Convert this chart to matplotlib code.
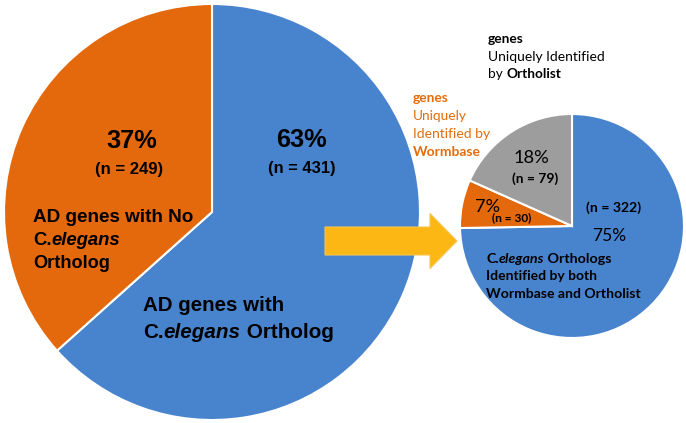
import matplotlib
matplotlib.use("Agg")
import matplotlib.pyplot as plt
from matplotlib.patches import FancyArrow

W, H = 686, 423

# left pie: AD genes with / without a C. elegans ortholog
ad_labels = ["with ortholog", "no ortholog"]
ad_counts = [431, 249]

# right pie: orthologs by source
src_labels = ["both", "wormbase only", "ortholist only"]
src_counts = [322, 30, 79]

BLUE = "#4884CE"
ORANGE = "#E4680C"
GRAY = "#9D9D9D"
YELLOW = "#FDB714"
TXT_OR = "#E46C0A"

fig = plt.figure(figsize=(W / 100, H / 100), dpi=100)
ax = fig.add_axes([0, 0, 1, 1])

wp = dict(edgecolor="white", linewidth=1.5)
ax.pie(ad_counts, colors=[BLUE, ORANGE], startangle=90, counterclock=False,
       center=(212, H - 212), radius=208, wedgeprops=wp, frame=False)
ax.pie(src_counts, colors=[BLUE, ORANGE, GRAY], startangle=90, counterclock=False,
       center=(572, H - 226), radius=112, wedgeprops=wp, frame=False)
ax.set_xlim(0, W)
ax.set_ylim(0, H)
ax.set_aspect("auto")
ax.axis("off")

ax.add_patch(FancyArrow(325, H - 241, 132, 0, width=28, head_width=55, head_length=27,
                        length_includes_head=True, fc=YELLOW, ec="#F7C64E", lw=0.8))

ad_pct = [round(100 * c / sum(ad_counts)) for c in ad_counts]
src_pct = [round(100 * c / sum(src_counts)) for c in src_counts]

ARIAL = "Liberation Sans"
CAL = "Lato"
rend = fig.canvas.get_renderer()
B, I, N = "bold", "italic", "normal"


def rich(x, y, parts, width, family, color="black", ha="left"):
    # parts: (text, weight, style); font size is fitted so the line is `width` px wide
    probe = []
    for s, w, st in parts:
        t = ax.text(0, 0, s, fontsize=10, family=family, fontweight=w, fontstyle=st)
        probe.append(t.get_window_extent(rend).width)
        t.remove()
    size = 10 * width / sum(probe)
    if ha == "center":
        x -= width / 2
    for (s, w, st), pw in zip(parts, probe):
        ax.text(x, H - y, s, fontsize=size, family=family, fontweight=w, fontstyle=st,
                color=color, ha="left", va="baseline")
        x += pw * size / 10


def txt(x, y, s, width, family, weight=N, color="black", ha="left"):
    rich(x, y, [(s, weight, N)], width, family, color, ha)


# left pie texts
txt(131.5, 148, f"{ad_pct[1]}%", 51, ARIAL, B, ha="center")
txt(129, 174, f"(n = {ad_counts[1]})", 68, ARIAL, B, ha="center")
txt(302, 147, f"{ad_pct[0]}%", 51, ARIAL, B, ha="center")
txt(302.5, 173, f"(n = {ad_counts[0]})", 68, ARIAL, B, ha="center")

txt(33, 221.5, "AD genes with No", 160, ARIAL, B)
rich(33, 245, [("C.", B, N), ("elegans", B, I)], 88, ARIAL)
txt(33, 267.5, "Ortholog", 77, ARIAL, B)

txt(143, 311, "AD genes with", 142, ARIAL, B)
rich(143, 337.5, [("C.", B, N), ("elegans", B, I), (" Ortholog", B, N)], 191, ARIAL)

# right pie texts
txt(531.5, 162.5, f"{src_pct[2]}%", 36, CAL, ha="center")
txt(535.5, 183, f"(n = {src_counts[2]})", 46, CAL, B, ha="center")
txt(487.5, 211.5, f"{src_pct[1]}%", 25, CAL, ha="center")
txt(511.5, 221.5, f"(n = {src_counts[1]})", 40, CAL, B, ha="center")
txt(613.5, 211.5, f"(n = {src_counts[0]})", 55, CAL, B, ha="center")
txt(609.5, 240.5, f"{src_pct[0]}%", 34, CAL, ha="center")

rich(486.5, 262.5, [("C.", B, N), ("elegans", B, I), (" Orthologs", B, N)], 125, CAL)
txt(486.5, 280, "Identified by both", 111.5, CAL, B)
txt(486.5, 298, "Wormbase and Ortholist", 154.5, CAL, B)

# side labels
txt(488, 42.5, "genes", 36, CAL, B)
txt(488, 60.5, "Uniquely Identified", 117, CAL)
rich(488, 78, [("by ", N, N), ("Ortholist", B, N)], 73, CAL)

txt(413, 101.5, "genes", 36, CAL, B, TXT_OR)
txt(413, 119.5, "Uniquely", 54, CAL, color=TXT_OR)
txt(413, 137.5, "Identified by", 77, CAL, color=TXT_OR)
txt(413, 155.5, "Wormbase", 68, CAL, B, TXT_OR)

fig.savefig("out.png", dpi=100)
